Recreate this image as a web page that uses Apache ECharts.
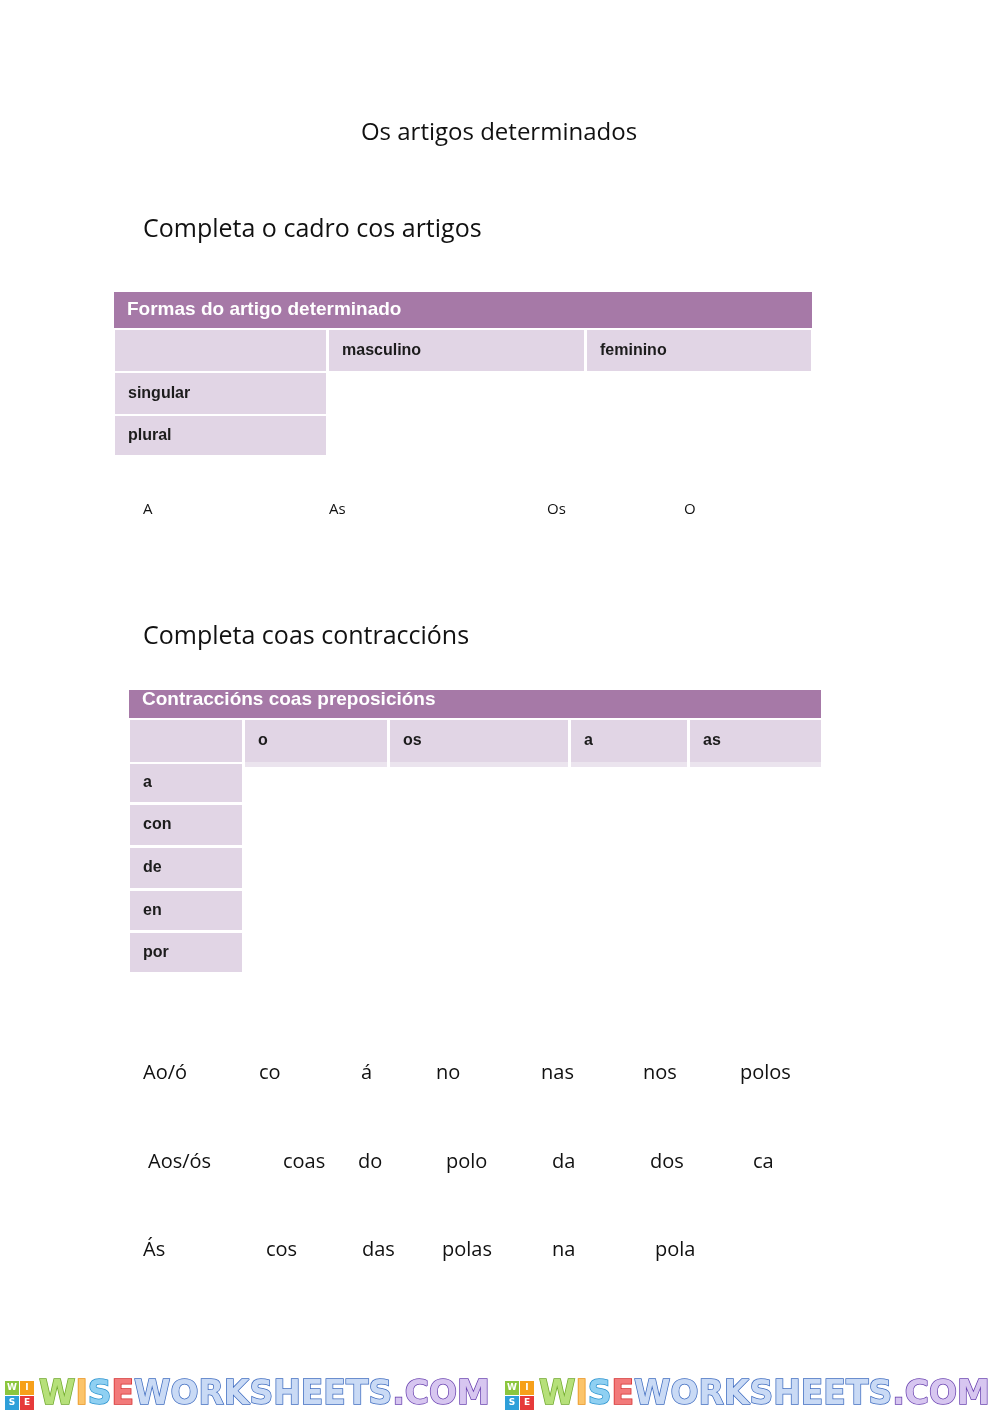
<!DOCTYPE html>
<html>
<head>
<meta charset="utf-8">
<title>Os artigos determinados</title>
<script src="https://cdn.jsdelivr.net/npm/echarts@6/dist/echarts.min.js"></script>
<style>
  html, body { margin: 0; padding: 0; background: #fff; }
  #sheet { width: 1000px; height: 1413px; }
</style>
</head>
<body>
<div id="sheet"></div>
<script>
// textos da ficha
var pageTitle = 'Os artigos determinados';
var task1 = 'Completa o cadro cos artigos';
var table1Title = 'Formas do artigo determinado';
var table1Cols = ['', 'masculino', 'feminino'];
var table1Rows = ['singular', 'plural'];
var bank1 = ['A', 'As', 'Os', 'O'];

var task2 = 'Completa coas contraccións';
var table2Title = 'Contraccións coas preposicións';
var table2Cols = ['', 'o', 'os', 'a', 'as'];
var table2Rows = ['a', 'con', 'de', 'en', 'por'];
var bank2Row1 = ['Ao/ó', 'co', 'á', 'no', 'nas', 'nos', 'polos'];
var bank2Row2 = ['Aos/ós', 'coas', 'do', 'polo', 'da', 'dos', 'ca'];
var bank2Row3 = ['Ás', 'cos', 'das', 'polas', 'na', 'pola'];

var logoParts = ['W', 'I', 'S', 'E', 'WORKSHEETS', '.COM'];
var iconLetters = ['W', 'I', 'S', 'E'];

// maquetación (px da páxina)
var layout = {
  t1: {
    bar: [114, 292, 812, 328],
    cols: [[115, 326], [329, 584], [587, 811]],
    rows: [[330, 371], [373, 414], [416, 455]]
  },
  t2: {
    bar: [129, 690, 821, 718],
    cols: [[130, 242], [245, 387], [390, 568], [571, 687], [690, 821]],
    rows: [[720, 762], [764, 802], [805, 845], [848, 888], [891, 930], [933, 972]]
  },
  bank1: { y: 510, x: [143, 329, 547, 684] },
  bank2: [
    { y: 1073, x: [143, 259, 361, 436, 541, 643, 740] },
    { y: 1162, x: [148, 283, 358, 446, 552, 650, 753] },
    { y: 1250, x: [143, 266, 362, 442, 552, 655] }
  ],
  logos: [4, 504]
};

var PURPLE = '#a679a7';
var LAVENDER = '#e1d5e5';
var STRIP = '#ebe4ee';
var iconColors = ['#8cc63e', '#f6a01a', '#2e9fd9', '#e63a3a'];

// rectángulos: [x0, y0, x1, y1, cor]
var rects = [];
var labels1 = [], labels2 = [], bars = [];

function buildTable(t, cols, rows, title, out) {
  rects.push([t.bar[0], t.bar[1], t.bar[2], t.bar[3], PURPLE]);
  bars.push([t.bar[0] + 13, title]);
  var hy = t.rows[0];
  t.cols.forEach(function (c, i) {
    rects.push([c[0], hy[0], c[1], hy[1], LAVENDER]);
    if (cols[i]) out.push([c[0] + 13, (hy[0] + hy[1]) / 2, cols[i]]);
  });
  rows.forEach(function (r, i) {
    var ry = t.rows[i + 1];
    rects.push([t.cols[0][0], ry[0], t.cols[0][1], ry[1], LAVENDER]);
    out.push([t.cols[0][0] + 13, (ry[0] + ry[1]) / 2, r]);
  });
}
buildTable(layout.t1, table1Cols, table1Rows, table1Title, labels1);
buildTable(layout.t2, table2Cols, table2Rows, table2Title, labels2);
// faixa clara baixo a cabeceira da táboa 2
layout.t2.cols.slice(1).forEach(function (c) {
  rects.push([c[0], layout.t2.rows[0][1], c[1], layout.t2.rows[0][1] + 5, STRIP]);
});
// iconas do logo
layout.logos.forEach(function (lx) {
  iconLetters.forEach(function (l, i) {
    var x0 = lx + 1 + (i % 2) * 15, y0 = 1381 + Math.floor(i / 2) * 15;
    rects.push([x0, y0, x0 + 14, y0 + 14, iconColors[i]]);
  });
});

var words = [];
bank1.forEach(function (w, i) { words.push([layout.bank1.x[i], layout.bank1.y, w, 15]); });
[bank2Row1, bank2Row2, bank2Row3].forEach(function (row, r) {
  row.forEach(function (w, i) { words.push([layout.bank2[r].x[i], layout.bank2[r].y, w, 20]); });
});

var headings = [
  [499, 133, pageTitle, 'center', 24],
  [143, 230, task1, 'left', 25],
  [143, 637, task2, 'left', 25]
];

var iconText = [];
layout.logos.forEach(function (lx) {
  iconLetters.forEach(function (l, i) {
    iconText.push([lx + 8 + (i % 2) * 15, 1388 + Math.floor(i / 2) * 15, l]);
  });
});

function textSeries(items, styleFn) {
  return {
    type: 'custom',
    coordinateSystem: 'cartesian2d',
    silent: true,
    clip: false,
    data: items.map(function (d) { return [d[0], d[1]]; }),
    renderItem: function (params, api) {
      var p = api.coord([api.value(0), api.value(1)]);
      return {
        type: 'text',
        x: p[0],
        y: p[1],
        style: styleFn(items[params.dataIndex])
      };
    }
  };
}

var LOGO_FONT = 'bold 33px "DejaVu Sans", sans-serif';
function logoStyle(fill, stroke) {
  return { fill: fill, stroke: stroke, lineWidth: 1.5, font: LOGO_FONT };
}

var chart = echarts.init(document.getElementById('sheet'), null, { renderer: 'canvas' });
chart.setOption({
  animation: false,
  backgroundColor: '#ffffff',
  grid: { left: 0, top: 0, width: 1000, height: 1413 },
  xAxis: { type: 'value', min: 0, max: 1000, show: false },
  yAxis: { type: 'value', min: 0, max: 1413, inverse: true, show: false },
  series: [
    {
      type: 'custom',
      coordinateSystem: 'cartesian2d',
      silent: true,
      clip: false,
      data: rects.map(function (r) { return [r[0], r[1], r[2], r[3]]; }),
      renderItem: function (params, api) {
        var a = api.coord([api.value(0), api.value(1)]);
        var b = api.coord([api.value(2), api.value(3)]);
        return {
          type: 'rect',
          shape: { x: a[0], y: a[1], width: b[0] - a[0], height: b[1] - a[1] },
          style: { fill: rects[params.dataIndex][4] }
        };
      }
    },
    // cabeceiras moradas
    textSeries([[bars[0][0], 310, bars[0][1]], [bars[1][0], 700, bars[1][1]]], function (d) {
      return {
        text: d[2],
        fill: '#ffffff',
        font: 'bold 19px "Liberation Sans", Arial, sans-serif',
        align: 'left',
        verticalAlign: 'middle'
      };
    }),
    textSeries(labels1.concat(labels2), function (d) {
      return {
        text: d[2],
        fill: '#1c1c1c',
        font: 'bold 16px "Liberation Sans", Arial, sans-serif',
        align: 'left',
        verticalAlign: 'middle'
      };
    }),
    textSeries(words, function (d) {
      return {
        text: d[2],
        fill: '#111111',
        font: d[3] + 'px "Open Sans", sans-serif',
        align: 'left',
        verticalAlign: 'middle'
      };
    }),
    textSeries(headings, function (d) {
      return {
        text: d[2],
        fill: '#111111',
        font: d[4] + 'px "Open Sans", sans-serif',
        align: d[3],
        verticalAlign: 'middle'
      };
    }),
    textSeries(iconText, function (d) {
      return {
        text: d[2],
        fill: '#ffffff',
        font: 'bold 9px "DejaVu Sans", sans-serif',
        align: 'center',
        verticalAlign: 'middle'
      };
    }),
    // logo
    textSeries(layout.logos.map(function (lx) { return [lx + 35, 1395, '']; }), function () {
      return {
        text: '{g|' + logoParts[0] + '}{o|' + logoParts[1] + '}{b|' + logoParts[2] + '}{r|' +
              logoParts[3] + '}{d|' + logoParts[4] + '}{p|' + logoParts[5] + '}',
        align: 'left',
        verticalAlign: 'middle',
        font: LOGO_FONT,
        rich: {
          g: logoStyle('#b6e07a', '#6fa82a'),
          o: logoStyle('#fbc46a', '#e88e10'),
          b: logoStyle('#8fd0f2', '#2a93cf'),
          r: logoStyle('#f27a7a', '#d42c2c'),
          d: logoStyle('#c9daf5', '#3f6cc0'),
          p: logoStyle('#d7c6f0', '#6a43b0')
        }
      };
    })
  ]
});
</script>
</body>
</html>
